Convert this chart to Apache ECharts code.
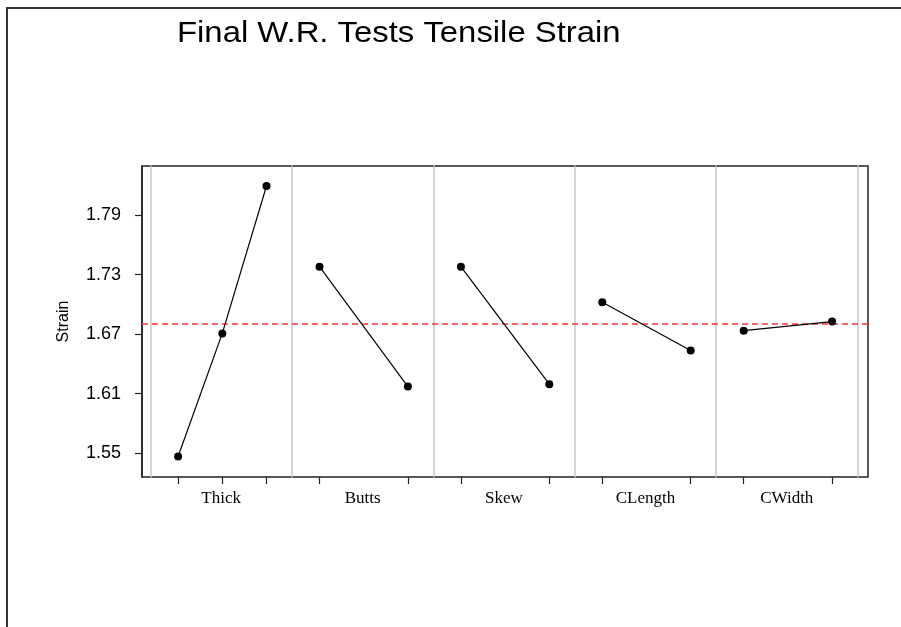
<!DOCTYPE html>
<html>
<head>
<meta charset="utf-8">
<script src="https://cdn.jsdelivr.net/npm/echarts@6/dist/echarts.min.js"></script>
<style>
  html, body { margin: 0; padding: 0; background: #fff; }
  #chart { width: 901px; height: 627px; }
</style>
</head>
<body>
<div id="chart"></div>
<script>
// ---- data ----
const factors = ['Thick', 'Butts', 'Skew', 'CLength', 'CWidth'];
const thickMeans = [1.5466, 1.6707, 1.8192];
const buttsMeans = [1.7379, 1.6171];
const skewMeans = [1.7379, 1.6195];
const clengthMeans = [1.7021, 1.6534];
const cwidthMeans = [1.6735, 1.6826];
const grandMean = 1.6785;
const yTicks = [1.55, 1.61, 1.67, 1.73, 1.79];
const yMin = 1.526, yMax = 1.8394;
const titleText = 'Final W.R. Tests Tensile Strain';
const yName = 'Strain';

const factorMeans = [thickMeans, buttsMeans, skewMeans, clengthMeans, cwidthMeans];

// ---- layout ----
const frame = { left: 142, top: 166, width: 726, height: 311 };
const panelStart = 150.5, panelEnd = 857.5;
const panelW = (panelEnd - panelStart) / factors.length;
const insetL = 27.6, insetR = 25.4;

const grids = [{ left: frame.left, top: frame.top, width: frame.width, height: frame.height,
  show: true, borderColor: '#222', borderWidth: 1.5, backgroundColor: 'transparent' }];
const xAxes = [{ gridIndex: 0, type: 'value', min: 0, max: 1, show: false }];
const yAxes = [{
  gridIndex: 0, type: 'value', min: yMin, max: yMax,
  axisLine: { show: true, lineStyle: { color: '#222', width: 1.5 } },
  axisTick: { show: true, inside: false, length: 7, customValues: yTicks, lineStyle: { color: '#222', width: 1.2 } },
  axisLabel: { show: true, customValues: yTicks, margin: 21, formatter: v => v.toFixed(2),
    fontFamily: 'Liberation Sans, Arial', fontSize: 18, color: '#000' },
  splitLine: { show: false },
  name: yName, nameLocation: 'middle', nameRotate: 90, nameGap: 70,
  nameTextStyle: { fontFamily: 'Liberation Sans, Arial', fontSize: 16, color: '#000' }
}];
const series = [{
  type: 'line', xAxisIndex: 0, yAxisIndex: 0, data: [], silent: true,
  markLine: { silent: true, symbol: ['none', 'none'], label: { show: false },
    lineStyle: { color: '#ff3030', type: [6, 4], width: 1.5 },
    data: [{ yAxis: grandMean }] }
}];

factors.forEach((f, i) => {
  const vals = factorMeans[i];
  const n = vals.length;
  const levels = vals.map((v, j) => j + 1);
  const span = panelW - insetL - insetR;
  const padL = insetL * (n - 1) / span;
  const padR = insetR * (n - 1) / span;
  grids.push({ left: panelStart + i * panelW, top: frame.top, width: panelW, height: frame.height });
  xAxes.push({
    gridIndex: i + 1, type: 'value', min: 1 - padL, max: n + padR,
    axisLine: { show: false, onZero: false },
    axisTick: { show: true, inside: false, length: 7, customValues: levels, lineStyle: { color: '#222', width: 1.2 } },
    axisLabel: { show: false },
    splitLine: { show: false },
    name: f, nameLocation: 'middle', nameGap: 13,
    nameTextStyle: { fontFamily: 'Liberation Serif, Times New Roman', fontSize: 17, color: '#000' }
  });
  yAxes.push({
    gridIndex: i + 1, type: 'value', min: yMin, max: yMax, position: 'left',
    axisLine: { show: true, onZero: false, lineStyle: { color: '#c4c4c4', width: 1.5 } },
    axisTick: { show: false }, axisLabel: { show: false }, splitLine: { show: false }
  });
  series.push({
    type: 'line', xAxisIndex: i + 1, yAxisIndex: i + 1,
    data: vals.map((v, j) => [levels[j], v]),
    symbol: 'circle', symbolSize: 8, showSymbol: true,
    itemStyle: { color: '#000' },
    lineStyle: { color: '#000', width: 1.2 },
    z: 5
  });
});
// right separator of last panel
yAxes.push({
  gridIndex: factors.length, type: 'value', min: yMin, max: yMax, position: 'right',
  axisLine: { show: true, onZero: false, lineStyle: { color: '#c4c4c4', width: 1.5 } },
  axisTick: { show: false }, axisLabel: { show: false }, splitLine: { show: false }
});

const chart = echarts.init(document.getElementById('chart'), null, { renderer: 'canvas' });
chart.setOption({
  animation: false,
  backgroundColor: '#fff',
  graphic: [
    { type: 'polyline', silent: true,
      shape: { points: [[7, 627], [7, 8], [901, 8]] },
      style: { stroke: '#333', lineWidth: 2, fill: null } },
    { type: 'text', silent: true, x: 177, y: 19, scaleX: 1.095, scaleY: 1,
      style: { text: titleText, fontFamily: 'Liberation Sans, Arial', fontSize: 30,
        fill: '#000', align: 'left', verticalAlign: 'top' } }
  ],
  grid: grids,
  xAxis: xAxes,
  yAxis: yAxes,
  series: series
});
</script>
</body>
</html>
